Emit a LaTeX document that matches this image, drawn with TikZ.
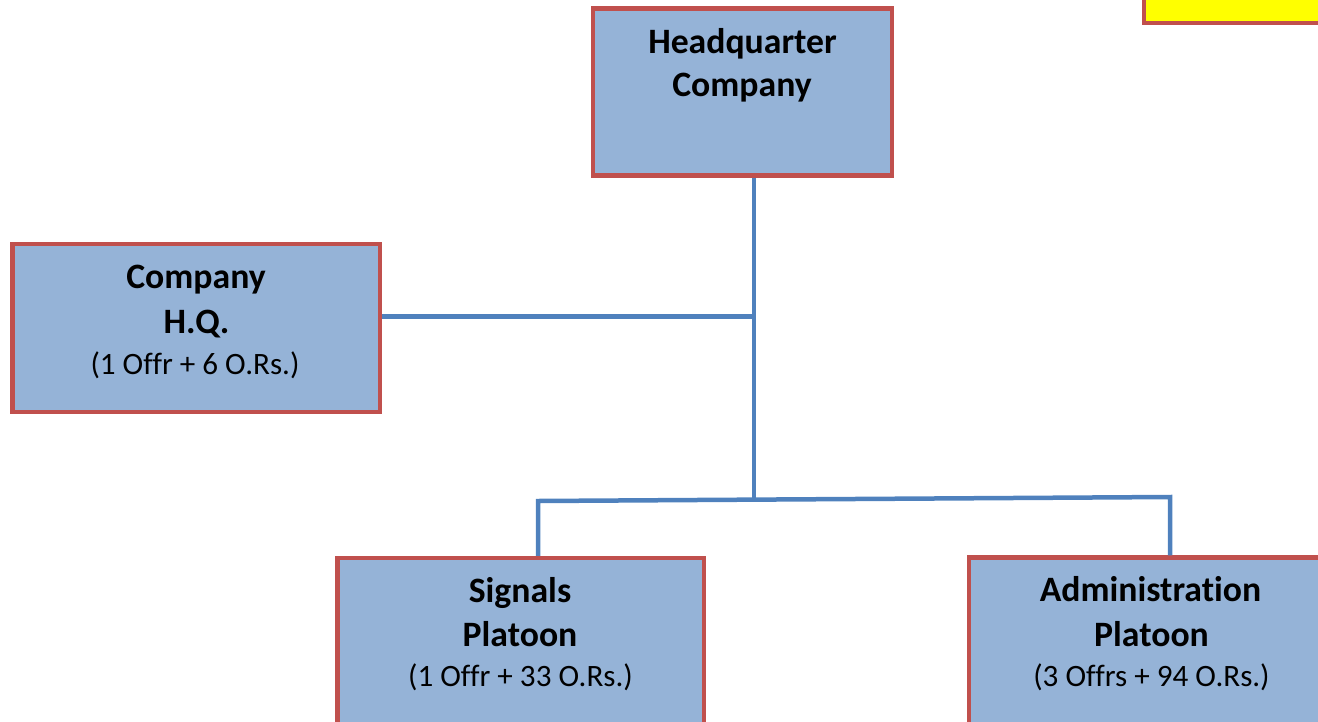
\documentclass[tikz,border=0pt]{standalone}
\usepackage{fontspec}
\setmainfont{Carlito}[Ligatures=NoCommon]
\definecolor{boxfill}{HTML}{95B3D7}
\definecolor{boxedge}{HTML}{C0504D}
\definecolor{connblue}{HTML}{4F81BD}
\definecolor{ylw}{HTML}{FFFF00}
\tikzset{
  orgbox/.style={draw=boxedge, fill=boxfill, line width=4.5pt, inner sep=0pt, rectangle},
  conn/.style={draw=connblue, line width=4.5pt},
  bt/.style={anchor=base, inner sep=0pt, font=\fontsize{35.7}{40}\selectfont\bfseries},
  rt/.style={anchor=base, inner sep=0pt, font=\fontsize{31.1}{36}\selectfont},
}
\begin{document}
\begin{tikzpicture}[x=1pt,y=-1pt]
\useasboundingbox (0,0) rectangle (1318,721);
\clip (0,0) rectangle (1318,721);
% boxes
\node[orgbox, minimum width=299pt, minimum height=167pt] (hq) at (742.5,92) {};
\node[orgbox, minimum width=367.5pt, minimum height=168pt] (chq) at (196.25,328) {};
\node[orgbox, minimum width=366.5pt, minimum height=202pt] (sig) at (520.75,659) {};
\node[orgbox, minimum width=371pt, minimum height=202.5pt] (adm) at (1154.5,658.75) {};
\node[orgbox, fill=ylw, minimum width=196pt, minimum height=53pt] (ybox) at (1242,-3.5) {};
% connectors
\coordinate (busJ) at (754,499);
\coordinate (jL) at (756,316.5);
\coordinate (busL) at (538,501);
\coordinate (busR) at (1170,497);
\draw[conn] (hq.south -| busJ) -- (busJ);
\draw[conn] (chq.east |- jL) -- (jL);
\draw[conn, line join=miter] (sig.north -| busL) -- (busL) -- (busR) -- (adm.north -| busR);
% texts
\node[bt] (hqa) at (742.5,53.5) {Headquarter};
\node[bt] (hqb) at (742,96.7) {Company};
\node[bt] (chqa) at (196,288) {Company};
\node[bt] (chqb) at (196.5,333.5) {H.Q.};
\node[rt] (chqc) at (195,374) {(1 Offr + 6 O.Rs.)};
\node[bt] (siga) at (520,602.7) {Signals};
\node[bt] (sigb) at (520,646.7) {Platoon};
\node[rt] (sigc) at (520.5,686) {(1 Offr + 33 O.Rs.)};
\node[bt] (adma) at (1150.5,601.7) {Administration};
\node[bt] (admb) at (1151.5,646.7) {Platoon};
\node[rt] (admc) at (1151.5,686.7) {(3 Offrs + 94 O.Rs.)};
\end{tikzpicture}
\end{document}
